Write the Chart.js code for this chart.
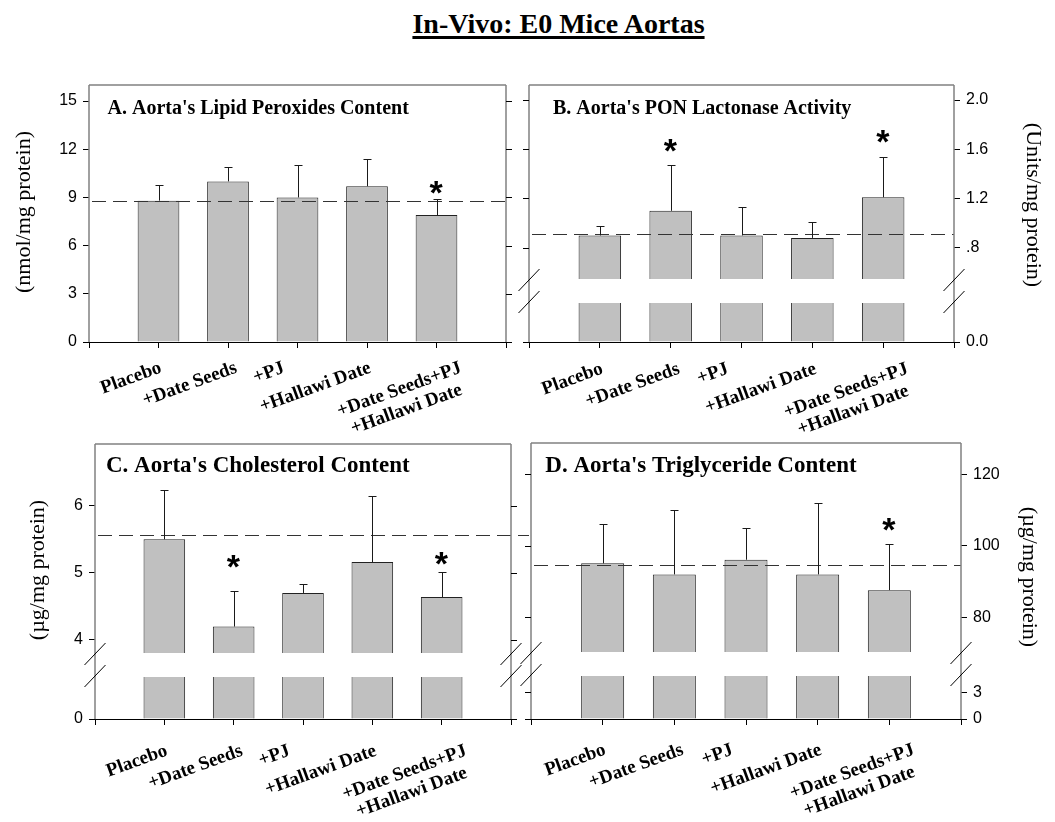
<!DOCTYPE html>
<html>
<head>
<meta charset="utf-8">
<title>In-Vivo: E0 Mice Aortas</title>
<script src="https://cdn.jsdelivr.net/npm/chart.js@4/dist/chart.umd.min.js"></script>
<style>
  html, body { margin: 0; padding: 0; background: #fff; }
  #page { position: relative; width: 1055px; height: 822px; overflow: hidden; background: #fff; }
  #page canvas { position: absolute; left: 0; top: 0; }
  #mainTitle { position: absolute; left: 0; top: 10px; width: 1117px; text-align: center;
    font: bold 28px "Liberation Serif", "Times New Roman", serif; line-height: 28px; color: #000;
    text-decoration: underline; text-decoration-thickness: 3px; text-underline-offset: 3px; }
</style>
</head>
<body>
<div id="page">
  <div id="mainTitle">In-Vivo: E0 Mice Aortas</div>
  <canvas id="panelA" width="1055" height="822"></canvas>
  <canvas id="panelB" width="1055" height="822"></canvas>
  <canvas id="panelC" width="1055" height="822"></canvas>
  <canvas id="panelD" width="1055" height="822"></canvas>
</div>
<script>
// Treatment groups; "\n" splits a label over two lines
const groups = ['Placebo', '+Date Seeds', '+PJ', '+Hallawi Date', '+Date Seeds+PJ\n+Hallawi Date'];

// A. Lipid peroxides (nmol/mg protein)
const lipidMean = [8.8, 10.0, 9.0, 9.7, 7.9];
const lipidErr = [1.0, 0.9, 2.0, 1.7, 1.0];
const lipidStar = [null, null, null, null, 9.6];
const lipidPlacebo = 8.8;
const lipidTicks = [0, 3, 6, 9, 12, 15];
const lipidTickLabels = ['0', '3', '6', '9', '12', '15'];

// B. PON lactonase activity (Units/mg protein)
const ponMean = [0.90, 1.10, 0.90, 0.88, 1.21];
const ponErr = [0.08, 0.37, 0.23, 0.13, 0.33];
const ponStar = [null, 1.63, null, null, 1.70];
const ponPlacebo = 0.91;
const ponTicksUpper = [0.8, 1.2, 1.6, 2.0];
const ponLabelsUpper = ['.8', '1.2', '1.6', '2.0'];
const ponTicksLower = [0];
const ponLabelsLower = ['0.0'];

// C. Cholesterol (µg/mg protein)
const cholMean = [5.50, 4.20, 4.70, 5.16, 4.64];
const cholErr = [0.74, 0.53, 0.14, 0.99, 0.37];
const cholStar = [null, 5.17, null, null, 5.22];
const cholPlacebo = 5.56;
const cholTicksUpper = [4, 5, 6];
const cholLabelsUpper = ['4', '5', '6'];
const cholTicksLower = [0];
const cholLabelsLower = ['0'];

// D. Triglyceride (µg/mg protein)
const trigMean = [95.1, 92.0, 96.1, 92.0, 87.6];
const trigErr = [10.9, 18.0, 8.9, 20.1, 13.0];
const trigStar = [null, null, null, null, 106];
const trigPlacebo = 94.5;
const trigTicksUpper = [80, 100, 120];
const trigLabelsUpper = ['80', '100', '120'];
const trigTicksLower = [0, 3];
const trigLabelsLower = ['0', '3'];

// ---- layout / styling ----
const PAGE_W = 1055, PAGE_H = 822;
const SERIF = '"Liberation Serif", "Times New Roman", serif';
const SANS = '"Liberation Sans", Arial, sans-serif';
const SCALE_W = 80, XAXIS_H = 100;
const slotTicks = Array.from({ length: groups.length + 2 }, (_, i) => i); // group i sits on slot i + 1
const labelNudge = [4, 10, -12, 5, 26];
const LABEL_ANGLE = 20;

const panelDefs = [
  {
    canvas: 'panelA', side: 'left',
    area: { left: 89, top: 85, right: 506, bottom: 342 },
    title: "A. Aorta's Lipid Peroxides Content", titleSize: 20, titlePos: [107.5, 114],
    axisTitle: '(nmol/mg protein)', axisTitlePos: [24, 212], axisTitleTurn: -1,
    mean: lipidMean, err: lipidErr, star: lipidStar, ref: lipidPlacebo, refOverrun: 6,
    labelDrop: 30,
    segments: [{ min: 0, max: 16, ticks: lipidTicks, labels: lipidTickLabels, px: 257 }]
  },
  {
    canvas: 'panelB', side: 'right',
    area: { left: 529, top: 85, right: 954, bottom: 342 },
    title: "B. Aorta's PON Lactonase Activity", titleSize: 20, titlePos: [553, 114],
    axisTitle: '(Units/mg protein)', axisTitlePos: [1033, 205], axisTitleTurn: 1,
    mean: ponMean, err: ponErr, star: ponStar, ref: ponPlacebo, refOverrun: 0,
    labelDrop: 31,
    segments: [
      { min: 0.546, max: 2.122, ticks: ponTicksUpper, labels: ponLabelsUpper, px: 194 },
      { gap: true, px: 24 },
      { min: 0, max: 0.317, ticks: ponTicksLower, labels: ponLabelsLower, px: 39 }
    ]
  },
  {
    canvas: 'panelC', side: 'left',
    area: { left: 95, top: 444, right: 511, bottom: 719 },
    title: "C. Aorta's Cholesterol Content", titleSize: 23, titlePos: [106, 471.7],
    axisTitle: '(µg/mg protein)', axisTitlePos: [38, 570], axisTitleTurn: -1,
    mean: cholMean, err: cholErr, star: cholStar, ref: cholPlacebo, refOverrun: 18,
    labelDrop: 36,
    segments: [
      { min: 3.806, max: 6.919, ticks: cholTicksUpper, labels: cholLabelsUpper, px: 209 },
      { gap: true, px: 24 },
      { min: 0, max: 0.625, ticks: cholTicksLower, labels: cholLabelsLower, px: 42 }
    ]
  },
  {
    canvas: 'panelD', side: 'right',
    area: { left: 531, top: 443, right: 961, bottom: 719 },
    title: "D. Aorta's Triglyceride Content", titleSize: 23, titlePos: [545.3, 471.7],
    axisTitle: '(µg/mg protein)', axisTitlePos: [1029, 577], axisTitleTurn: 1,
    mean: trigMean, err: trigErr, star: trigStar, ref: trigPlacebo, refOverrun: 0,
    labelDrop: 35,
    segments: [
      { min: 70.29, max: 128.76, ticks: trigTicksUpper, labels: trigLabelsUpper, px: 209 },
      { gap: true, px: 24 },
      { min: 0, max: 4.85, ticks: trigTicksLower, labels: trigLabelsLower, px: 43 }
    ]
  }
];

function line(ctx, x1, y1, x2, y2) {
  ctx.beginPath(); ctx.moveTo(x1, y1); ctx.lineTo(x2, y2); ctx.stroke();
}

function decorPlugin(def, axisIds) {
  const valueAxis = axisIds[0];
  return {
    id: 'panelDecor',
    // keep each bar dataset inside its own axis segment
    beforeDatasetDraw(chart, args) {
      const ys = args.meta.yScale, a = chart.chartArea, ctx = chart.ctx;
      ctx.save();
      ctx.beginPath();
      ctx.rect(a.left, ys.top, a.right - a.left, ys.bottom - ys.top);
      ctx.clip();
    },
    afterDatasetDraw(chart) { chart.ctx.restore(); },
    afterDatasetsDraw(chart) {
      const ctx = chart.ctx, a = chart.chartArea;
      const xs = chart.scales.x, ys = chart.scales[valueAxis];
      ctx.save();
      // placebo reference line
      ctx.strokeStyle = '#333';
      ctx.lineWidth = 1;
      ctx.setLineDash([14, 7]);
      const yr = Math.round(ys.getPixelForValue(def.ref)) + 0.5;
      line(ctx, a.left + 3, yr, a.right + def.refOverrun, yr);
      ctx.setLineDash([]);
      // upper error bars
      ctx.strokeStyle = '#1a1a1a';
      def.mean.forEach((m, i) => {
        const x = Math.round(xs.getPixelForValue(i + 1)) + 0.5;
        const y0 = ys.getPixelForValue(m);
        const y1 = Math.round(ys.getPixelForValue(m + def.err[i])) + 0.5;
        line(ctx, x, y0, x, y1);
        line(ctx, x - 4, y1, x + 4, y1);
      });
      // significance marks
      ctx.fillStyle = '#000';
      ctx.font = 'bold 34px ' + SANS;
      ctx.textBaseline = 'alphabetic';
      ctx.textAlign = 'left';
      def.star.forEach((s, i) => {
        if (s === null) return;
        const m = ctx.measureText('*');
        const cx = xs.getPixelForValue(i + 1);
        const cy = ys.getPixelForValue(s);
        const x = cx - (m.actualBoundingBoxRight - m.actualBoundingBoxLeft) / 2;
        const y = cy + (m.actualBoundingBoxAscent - m.actualBoundingBoxDescent) / 2;
        ctx.fillText('*', x, y);
      });
      ctx.restore();
    },
    afterDraw(chart) {
      const ctx = chart.ctx, a = chart.chartArea, xs = chart.scales.x;
      ctx.save();
      // frame (top, left, right)
      ctx.strokeStyle = '#808080';
      ctx.lineWidth = 1.5;
      line(ctx, a.left, a.top, a.right, a.top);
      line(ctx, a.left, a.top, a.left, a.bottom);
      line(ctx, a.right, a.top, a.right, a.bottom);
      // tick marks mirrored on the unlabeled side
      ctx.strokeStyle = '#000';
      ctx.lineWidth = 1;
      axisIds.forEach(id => {
        const s = chart.scales[id];
        if (!s || id === 'yGap') return;
        s.ticks.forEach(t => {
          const y = Math.round(s.getPixelForValue(t.value)) + 0.5;
          if (def.side === 'left') line(ctx, a.right, y, a.right + 6, y);
          else line(ctx, a.left - 6, y, a.left, y);
        });
      });
      // axis break marks
      const gap = chart.scales.yGap;
      if (gap) {
        const cy = (gap.top + gap.bottom) / 2;
        [a.left, a.right].forEach(bx => {
          line(ctx, bx - 10.5, cy, bx + 10.5, cy - 22);
          line(ctx, bx - 10.5, cy + 22, bx + 10.5, cy);
        });
      }
      // rotated group labels
      ctx.fillStyle = '#000';
      ctx.font = 'bold 19px ' + SERIF;
      ctx.textBaseline = 'alphabetic';
      groups.forEach((g, i) => {
        const lines = g.split('\n');
        const x = xs.getPixelForValue(i + 1) + labelNudge[i];
        const y = a.bottom + def.labelDrop;
        ctx.save();
        ctx.translate(x, y);
        ctx.rotate(-LABEL_ANGLE * Math.PI / 180);
        const w0 = ctx.measureText(lines[0]).width;
        ctx.textAlign = 'right';
        ctx.fillText(lines[0], 0, 0);
        ctx.textAlign = 'center';
        for (let k = 1; k < lines.length; k++) ctx.fillText(lines[k], -w0 / 2, 21 * k);
        ctx.restore();
      });
      // panel title
      ctx.textAlign = 'left';
      ctx.font = 'bold ' + def.titleSize + 'px ' + SERIF;
      ctx.fillText(def.title, def.titlePos[0], def.titlePos[1]);
      // value axis title
      ctx.save();
      ctx.translate(def.axisTitlePos[0], def.axisTitlePos[1]);
      ctx.rotate(def.axisTitleTurn * Math.PI / 2);
      ctx.font = '22px ' + SERIF;
      ctx.textAlign = 'center';
      ctx.textBaseline = 'middle';
      ctx.fillText(def.axisTitle, 0, 0);
      ctx.restore();
      ctx.restore();
    }
  };
}

function buildPanel(def) {
  const single = def.segments.length === 1;
  const ids = single ? ['y'] : ['yTop', 'yGap', 'yBot'];
  const scales = {
    x: {
      type: 'linear', position: 'bottom', min: 0, max: groups.length + 1,
      offset: false, bounds: 'data',
      afterBuildTicks: s => { s.ticks = slotTicks.map(v => ({ value: v })); },
      ticks: { display: false, autoSkip: false },
      grid: { offset: false, drawOnChartArea: false, drawTicks: true, tickLength: 6, color: '#000', lineWidth: 1 },
      border: { display: true, color: '#000', width: 1 },
      afterFit: s => { s.height = XAXIS_H; }
    }
  };
  def.segments.forEach((seg, k) => {
    const sc = {
      type: 'linear', position: def.side, bounds: 'data',
      weight: def.side === 'left' ? 3 - k : k + 1,
      border: { display: false },
      afterFit: s => { s.width = SCALE_W; }
    };
    if (!single) { sc.stack = 'v'; sc.stackWeight = seg.px; }
    if (seg.gap) {
      Object.assign(sc, { min: 0, max: 1, ticks: { display: false }, grid: { display: false } });
    } else {
      Object.assign(sc, {
        min: seg.min, max: seg.max,
        afterBuildTicks: s => { s.ticks = seg.ticks.map(v => ({ value: v })); },
        ticks: {
          autoSkip: false, padding: 6, color: '#000',
          font: { family: SANS, size: 16 },
          callback: (v, i) => seg.labels[i]
        },
        grid: { drawOnChartArea: false, drawTicks: true, tickLength: 6, color: '#000', lineWidth: 1 }
      });
    }
    scales[ids[k]] = sc;
  });

  const datasets = [];
  def.segments.forEach((seg, k) => {
    if (seg.gap) return;
    datasets.push({
      data: def.mean.map((v, i) => ({ x: i + 1, y: v })),
      yAxisID: ids[k],
      backgroundColor: '#c0c0c0',
      borderColor: '#222',
      borderWidth: 1,
      borderSkipped: 'start',
      barPercentage: 0.6,
      categoryPercentage: 1,
      grouped: false,
      clip: 0
    });
  });

  const a = def.area;
  const padding = def.side === 'left'
    ? { left: a.left - SCALE_W, right: PAGE_W - a.right, top: a.top, bottom: PAGE_H - a.bottom - XAXIS_H }
    : { left: a.left, right: PAGE_W - a.right - SCALE_W, top: a.top, bottom: PAGE_H - a.bottom - XAXIS_H };

  new Chart(document.getElementById(def.canvas), {
    type: 'bar',
    data: { datasets },
    options: {
      responsive: false,
      animation: false,
      devicePixelRatio: 1,
      layout: { padding },
      plugins: { legend: { display: false }, tooltip: { enabled: false } },
      scales
    },
    plugins: [decorPlugin(def, ids)]
  });
}

panelDefs.forEach(buildPanel);
</script>
</body>
</html>
